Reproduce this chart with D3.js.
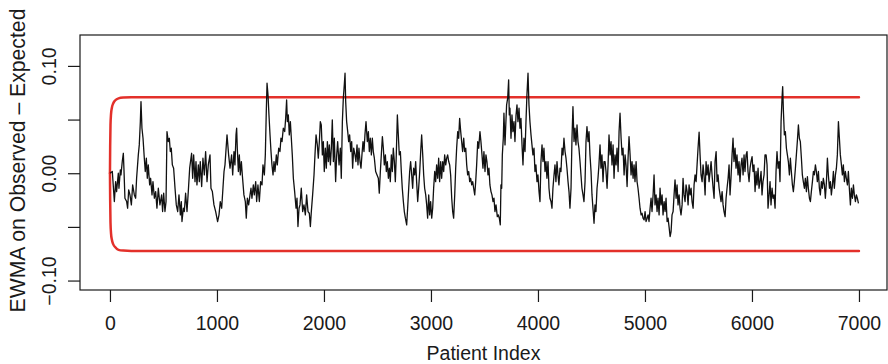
<!DOCTYPE html>
<html>
<head>
<meta charset="utf-8">
<script src="https://cdn.jsdelivr.net/npm/d3@7"></script>
<style>
  html, body { margin: 0; padding: 0; background: #ffffff; }
  svg { display: block; }
  text { font-family: "Liberation Sans", Arial, Helvetica, sans-serif; fill: #1a1a1a; }
</style>
</head>
<body>
<svg id="chart" width="888" height="364"></svg>
<script>
// Axis ticks and labels
const xTicks = [0, 1000, 2000, 3000, 4000, 5000, 6000, 7000];
const yTicks = [-0.10, -0.05, 0.00, 0.05, 0.10];
const yTickLabels = ["\u22120.10", "", "0.00", "", "0.10"];
const xTitle = "Patient Index";
const yTitle = "EWMA on Observed \u2013 Expected";

// Plot ranges (data range padded the way base graphics does)
const xLimits = [-280, 7262];
const yLimits = [-0.1088, 0.1288];

// EWMA control limits by patient index
const limitIndex = [0, 2, 5, 10, 18, 30, 50, 80, 125, 200, 7000];
const upperLimit = [0, 0.025, 0.045, 0.055, 0.061, 0.065, 0.068, 0.0698, 0.0705, 0.0708, 0.0708];
const lowerLimit = [0, -0.025, -0.046, -0.056, -0.062, -0.066, -0.069, -0.0714, -0.0721, -0.0724, -0.0724];

// EWMA of observed minus expected: [patient index, value]
const ewmaSeries = [
  [1,0],[22,0.0016],[41,-0.0264],[53,-0.0078],[62,-0.0171],[78,0],[84,-0.014],[97,0.0031],[103,-0.0016],[115,0.0109],[125,0.0186],
  [131,0.0031],[140,-0.0233],[156,-0.0264],[165,-0.0326],[175,-0.0155],[187,-0.0202],[200,-0.0295],[212,-0.0109],[228,-0.0202],[240,-0.0233],
  [249,-0.0047],[265,0.0171],[274,0.0264],[284,0.0481],[290,0.0668],[299,0.0419],[309,0.0326],[321,0.014],[330,0.0016],[340,0.014],
  [349,-0.0047],[358,0.0078],[371,-0.0109],[380,-0.0047],[393,-0.0202],[402,-0.0078],[415,-0.0233],[427,-0.0171],[439,-0.0326],[452,-0.014],
  [467,-0.0295],[483,-0.0202],[492,-0.0357],[502,-0.0186],[514,-0.0357],[524,-0.0264],[533,0.0388],[545,0.0295],[555,0.0326],[564,0.0202],
  [573,0.0233],[583,0.0078],[595,0.0047],[608,-0.014],[620,-0.0295],[633,-0.0357],[645,-0.0202],[658,-0.0388],[667,-0.0264],[673,-0.045],
  [686,-0.0326],[695,-0.0357],[707,-0.0186],[720,-0.0357],[732,-0.0171],[745,0.0047],[763,0.0186],[773,-0.0047],[782,0.0171],[795,-0.0078],
  [804,0.0109],[813,-0.0109],[826,0.0078],[835,-0.0078],[844,0.0109],[857,-0.0124],[869,0.014],[882,-0.0016],[894,0.0202],[907,-0.0078],
  [919,0.0078],[935,0.0171],[944,-0.014],[957,-0.0171],[972,-0.0295],[988,-0.0357],[1006,-0.045],[1019,-0.0388],[1031,-0.0264],[1044,-0.0326],
  [1056,-0.014],[1066,0.0016],[1075,0.0078],[1094,0.0357],[1109,0.0171],
  [1122,0.0047],[1137,0.0171],[1147,-0.0016],[1159,0.0202],[1168,0.0078],[1178,0.0357],[1184,0.0419],[1190,0.0233],[1200,0.0016],[1209,0.0171],
  [1218,-0.0016],[1228,0.0109],[1237,-0.0016],[1252,-0.0202],[1265,-0.0264],[1274,-0.0419],[1284,-0.0233],[1296,-0.0295],[1309,-0.0202],[1318,-0.014],
  [1327,-0.0233],[1340,-0.0109],[1349,-0.0202],[1362,-0.0078],[1371,-0.0264],[1383,-0.0109],[1396,-0.0264],[1408,-0.0078],[1421,-0.0109],[1430,0.0078],
  [1443,-0.0016],[1452,0.0171],[1461,0.0575],[1468,0.0839],[1477,0.073],[1486,0.0543],[1496,0.0357],[1505,0.0202],[1514,0.0078],[1524,-0.0016],
  [1533,0.0109],[1542,0.0016],[1555,0.0171],[1564,0.0078],[1577,0.0233],[1589,0.0202],[1598,0.0326],[1608,0.0295],[1620,0.0419],[1633,0.0388],
  [1642,0.0512],[1651,0.0683],[1658,0.0481],[1667,0.0543],[1676,0.0357],[1686,0.0481],[1695,0.0326],[1704,0.0171],[1714,-0.0047],[1726,-0.0171],
  [1739,-0.0326],[1748,-0.0233],[1757,-0.0497],[1767,-0.0326],[1776,-0.0295],[1788,-0.014],[1801,-0.0357],[1813,-0.0295],[1826,-0.0388],[1838,-0.0202],
  [1851,-0.0357],[1863,-0.0373],[1873,-0.0497],[1882,-0.0357],[1894,-0.0202],[1907,-0.0016],[1916,0.0171],[1926,0.0357],[1938,0.0264],[1947,0.014],
  [1957,0.0295],[1966,0.0481],[1975,0.045],[1985,0.0171],[1994,0.0295],[2003,0.0016],[2013,0.0233],[2022,0.0047],[2032,0.0295],[2041,0.0109],
  [2050,0.0264],[2060,0.0078],[2069,0.0233],[2078,0.0497],[2088,0.0109],[2097,0.0326],[2109,-0.0078],[2119,0.0171],[2128,0.0295],[2141,0.0078],
  [2153,0.0233],[2162,-0.0047],[2172,0.0481],[2181,0.0699],[2190,0.0823],[2197,0.0932],[2203,0.0668],[2212,0.0481],[2222,0.0388],[2231,0.0295],
  [2240,0.0357],[2250,0.0202],[2259,0.0295],[2268,0.0047],[2278,0.0233],
  [2290,0.0171],[2299,0.0109],[2309,0.0264],[2318,0.0078],[2327,0.0233],[2337,0.0109],[2346,0.0047],[2355,0.0171],[2365,0.0295],[2374,0.0202],
  [2383,0.0357],[2393,0.0481],[2405,0.0295],[2415,0.0388],[2424,0.0202],[2433,0.0326],[2443,0.0171],[2452,0.0326],[2461,0.0202],[2471,0.014],
  [2483,0.0016],[2496,-0.0016],[2508,-0.0047],[2517,-0.0186],[2527,0.0016],[2536,0.0171],[2546,0.0342],[2555,0.0233],[2564,0.0078],[2574,0.0171],
  [2583,0.0016],[2592,0.0109],[2602,-0.0047],[2611,0.0047],[2620,-0.0078],[2630,0.0171],[2639,0.0016],[2648,0.0233],[2658,0.0109],[2667,-0.0078],
  [2676,0.0171],[2686,0.0543],[2695,0.0357],[2704,0.0171],[2714,0.0202],[2723,0.0016],[2732,-0.014],[2742,-0.0264],[2751,-0.0357],[2761,-0.0419],
  [2773,-0.0481],[2782,-0.0326],[2792,-0.014],[2801,0.0016],[2810,0.0109],[2820,-0.0016],[2829,-0.014],[2838,0.0047],[2848,-0.0016],[2857,0.0109],
  [2866,-0.0078],[2876,-0.0264],[2885,-0.014],[2895,0.0016],[2904,0.0202],[2913,0.0357],[2923,0.0171],[2932,-0.0016],[2941,-0.014],[2951,-0.0202],
  [2960,-0.0295],[2969,-0.0419],[2979,-0.0202],[2988,-0.0388],[2997,-0.0264],[3007,-0.0419],[3016,-0.0326],[3025,-0.014],[3035,0.0016],[3044,-0.0078],
  [3053,0.0078],[3063,-0.0047],[3072,0.014],[3081,-0.0078],[3091,0.0109],[3100,-0.0047],[3110,0.0109],[3119,0.0016],[3128,0.0171],[3138,0.0078],
  [3147,0.014],[3156,0.0171],[3166,0.0109],[3175,0.0078],[3184,-0.0016],[3194,-0.0233],[3203,-0.0357],[3212,-0.0419],[3222,-0.0202],[3231,0.0047],
  [3240,0.0233],[3250,0.0388],[3259,0.0326],[3268,0.0512],[3278,0.0388],[3287,0.0295],[3296,0.0202],[3306,0.0326],[3315,0.0202],[3325,0.0233],
  [3334,0.0078],[3343,-0.0016],[3353,0.0016],[3362,-0.0078],[3371,-0.0047],[3381,-0.0109],[3390,-0.0078],[3399,-0.014],[3409,-0.0202],[3418,-0.0078],
  [3427,0.0078],[3437,0.0295],[3446,0.0233],
  [3458,0.0388],[3467,0.0295],[3477,0.0171],[3486,0.0047],[3495,0.0202],[3505,0.0016],[3514,0.0171],[3523,0.0109],[3533,-0.0016],[3542,0.0047],
  [3551,-0.0109],[3561,-0.0171],[3570,-0.0202],[3580,-0.0264],[3589,-0.0233],[3598,-0.0357],[3608,-0.0295],[3620,-0.0404],[3629,-0.0388],[3639,-0.0419],
  [3648,-0.0481],[3654,-0.0109],[3661,-0.014],[3667,0.0171],[3676,0.0326],[3682,0.0559],[3692,0.0264],[3698,0.0419],[3707,0.0637],[3717,0.0699],
  [3726,0.087],[3732,0.0543],[3738,0.0606],[3748,0.0326],[3757,0.0543],[3766,0.0388],[3776,0.0481],[3785,0.0295],[3795,0.0543],[3804,0.0637],
  [3813,0.0481],[3823,0.0606],[3832,0.0419],[3841,0.0512],[3851,0.0264],[3860,0.0078],[3869,0.0326],[3879,0.0202],[3888,0.0481],[3897,0.073],
  [3907,0.0932],[3916,0.0637],[3925,0.0481],[3935,0.0357],[3944,0.0264],[3953,0.0171],[3963,0.0233],[3972,0.0016],[3981,0.0078],[3991,-0.0078],
  [4000,-0.0016],[4010,-0.0171],[4019,-0.0264],[4028,0.0109],[4038,0.0264],[4047,0.0109],[4056,0.0233],[4066,0.0016],[4075,0.0109],[4084,-0.0047],
  [4094,0.0109],[4103,-0.014],[4112,-0.0233],[4122,-0.0264],[4131,-0.0326],[4140,-0.014],[4150,-0.0016],[4159,0.0078],[4168,-0.0078],[4178,0.0109],
  [4187,-0.0016],[4196,-0.0109],[4206,0.0047],[4215,0.0016],[4225,0.0233],[4234,0.0171],[4243,0.0326],[4253,0.0202],[4262,0.014],[4271,0.0047],
  [4281,-0.0078],[4290,-0.0171],[4299,-0.0326],[4309,-0.014],[4318,0.0326],[4327,0.0621],[4337,0.0295],[4346,0.0419],[4355,0.0264],[4365,0.045],
  [4374,0.0295],[4383,0.0233],[4393,0.0109],[4402,-0.0016],[4411,-0.014],[4421,-0.0202],[4430,-0.0264],[4440,-0.0078],[4449,0.0295],[4458,0.0435],
  [4468,0.0295],[4477,0.0388],[4486,0.0171],[4496,0.0016],[4505,-0.0202],[4514,-0.0326],[4524,-0.0466],[4533,-0.0295],[4542,-0.0357],[4552,-0.014],
  [4561,-0.0047],[4570,0.0078],[4580,0.0264],[4589,0.0047],[4598,0.0171],[4608,-0.0078],[4617,0.0109],
  [4627,0.0109],[4636,0.0016],[4646,-0.014],[4655,0.0078],[4664,0.0357],[4674,0.0171],[4683,0.0295],[4692,0.0078],[4702,0.0264],[4711,-0.0047],
  [4720,0.0171],[4730,0.0078],[4739,0.0233],[4749,0.0016],[4758,0.0388],[4767,0.0559],[4777,0.0326],[4786,0.0171],[4795,0.0233],[4805,-0.0016],
  [4814,0.0171],[4823,0.0078],[4833,-0.0124],[4842,0.014],[4851,0.0342],[4861,0.0171],[4870,-0.0016],[4879,0.0109],[4889,-0.0047],[4898,0.0078],
  [4907,-0.0078],[4917,0.0109],[4926,-0.0078],[4935,-0.014],[4945,-0.0233],[4954,-0.0326],[4964,-0.0388],[4973,-0.0373],[4982,-0.0419],[4992,-0.0435],
  [5001,-0.0357],[5010,-0.045],[5020,-0.0419],[5029,-0.0388],[5038,-0.045],[5048,-0.0326],[5057,-0.0233],[5066,-0.0357],[5076,-0.0202],[5085,-0.0016],
  [5094,-0.0295],[5104,-0.0202],[5113,-0.0357],[5122,-0.0233],[5132,-0.0388],[5141,-0.014],[5150,-0.0295],[5160,-0.0202],[5169,-0.0388],[5179,-0.0264],
  [5188,-0.0357],[5197,-0.0233],[5207,-0.045],[5216,-0.0419],[5225,-0.0497],[5235,-0.059],[5244,-0.0543],[5253,-0.0388],[5263,-0.0357],[5272,-0.0202],
  [5281,-0.0062],[5291,-0.0233],[5300,-0.0109],[5309,-0.0295],[5319,-0.0202],[5328,-0.0326],[5337,-0.0388],[5347,-0.0295],[5356,-0.0047],[5365,-0.0202],
  [5375,-0.0264],[5384,-0.0109],[5394,-0.0171],[5403,-0.0295],[5412,-0.0109],[5422,-0.0202],[5431,-0.014],[5440,-0.0264],[5450,-0.0326],[5459,-0.0109],
  [5468,-0.0016],[5478,-0.0078],[5487,0.0078],[5496,0.0233],[5506,0.0382],[5515,0.0171],[5524,-0.0016],[5534,-0.0078],[5543,0.0078],[5552,-0.0016],
  [5562,-0.0202],[5571,0.0109],[5580,-0.0016],[5590,0.0078],[5599,-0.0078],[5609,0.0016],[5618,0.0109],[5627,-0.0016],[5637,-0.014],[5646,-0.0233],
  [5655,0.0109],[5665,0.0202],[5674,-0.0078],[5683,-0.0016],[5693,-0.014],[5702,-0.0202],[5711,-0.0264],[5721,-0.0171],[5730,-0.0295],[5739,-0.0357],
  [5749,-0.0404],[5758,-0.0233],[5767,-0.014],[5777,-0.0047],[5786,0.0078],
  [5795,-0.0202],[5804,-0.0047],[5814,0.0171],[5823,0.0326],[5832,0.0109],[5842,0.0233],[5851,0.0047],[5860,0.0171],[5870,-0.0016],[5879,0.0109],
  [5888,-0.0078],[5898,0.0078],[5907,0.014],[5917,-0.0016],[5926,0.0171],[5935,0.0016],[5945,0.0171],[5954,0.0202],[5963,0.0016],[5973,-0.0078],
  [5982,0.0047],[5991,0.0109],[6001,0.0155],[6010,0.0016],[6019,0.0078],[6029,-0.0171],[6038,0.0016],[6047,-0.0109],[6057,0.0047],[6066,-0.014],
  [6075,-0.0078],[6085,0.0016],[6094,-0.0202],[6103,-0.0078],[6113,-0.0016],[6122,0.0171],[6132,0.0171],[6141,0.0078],[6150,-0.0326],[6160,-0.0202],
  [6169,-0.0078],[6178,-0.0295],[6188,-0.014],[6197,-0.0233],[6206,-0.0202],[6216,-0.0326],[6225,0.0016],[6234,0.0202],[6244,0.0047],[6253,0.0109],
  [6262,-0.0078],[6272,0.0481],[6281,0.0699],[6287,0.0807],[6294,0.0575],[6303,0.0357],[6312,0.0388],[6322,0.0233],[6331,0.0171],[6340,0.0109],
  [6350,-0.0016],[6359,0.014],[6368,0.0016],[6378,-0.0109],[6387,-0.0171],[6396,-0.0078],[6406,0.0047],[6415,0.0171],[6424,0.0295],[6434,0.045],
  [6443,0.0326],[6452,0.0295],[6462,0.014],[6471,-0.0016],[6480,-0.0078],[6490,-0.014],[6499,-0.0047],[6509,-0.0171],[6518,-0.0031],[6527,-0.014],
  [6537,-0.0233],[6546,-0.0264],[6555,-0.0171],[6565,-0.0078],[6574,0.0016],[6583,-0.0016],[6593,0.0078],[6602,0.0016],[6611,-0.0078],[6621,0.0016],
  [6630,-0.014],[6639,-0.0202],[6649,-0.0078],[6658,-0.014],[6667,-0.0047],[6677,-0.0109],[6686,-0.0233],[6696,-0.0078],[6705,0.014],[6714,-0.0016],
  [6724,-0.014],[6733,-0.0078],[6742,-0.0202],[6752,-0.0109],[6761,0.0016],[6770,-0.014],[6780,-0.0016],[6789,0.0047],[6798,0.0171],[6808,0.0481],
  [6817,0.0326],[6826,0.0171],[6836,0.0078],[6845,-0.0016],[6854,0.0078],[6864,-0.0078],[6873,0.0016],[6882,-0.0047],[6892,-0.0109],[6901,0.0016],
  [6910,-0.014],[6920,-0.0295],[6929,-0.014],[6939,-0.0233],[6948,-0.0109],[6957,-0.0202],[6967,-0.0264],[6976,-0.0202],[6985,-0.0233],[6995,-0.028]
];

// Layout
const width = 888, height = 364;
const margin = { top: 35, right: 1, bottom: 74, left: 80 };
const fontSize = 19.5;
const yTitleSize = 21.2;

const svg = d3.select("#chart");

const x = d3.scaleLinear().domain(xLimits).range([margin.left, width - margin.right]);
const y = d3.scaleLinear().domain(yLimits).range([height - margin.bottom, margin.top]);

// Control limits (red), drawn under the EWMA trace
const limitLine = d3.line()
  .x((d, i) => x(limitIndex[i]))
  .y(d => y(d))
  .curve(d3.curveMonotoneX);

const limitsGroup = svg.append("g")
  .attr("fill", "none")
  .attr("stroke", "#e3302a")
  .attr("stroke-width", 2.5)
  .attr("stroke-linejoin", "round")
  .attr("stroke-linecap", "round");
limitsGroup.append("path").attr("d", limitLine(upperLimit));
limitsGroup.append("path").attr("d", limitLine(lowerLimit));

// EWMA trace
const ewmaLine = d3.line()
  .x(d => x(d[0]))
  .y(d => y(d[1]));

svg.append("path")
  .attr("d", ewmaLine(ewmaSeries))
  .attr("fill", "none")
  .attr("stroke", "#111111")
  .attr("stroke-width", 1.3)
  .attr("stroke-linejoin", "round");

// Plot frame
svg.append("rect")
  .attr("x", x.range()[0])
  .attr("y", y.range()[1])
  .attr("width", x.range()[1] - x.range()[0])
  .attr("height", y.range()[0] - y.range()[1])
  .attr("fill", "none")
  .attr("stroke", "#1a1a1a")
  .attr("stroke-width", 1.2);

// X axis
const gx = svg.append("g")
  .attr("transform", `translate(0,${y.range()[0]})`)
  .call(d3.axisBottom(x).tickValues(xTicks).tickSize(12).tickFormat(d3.format("d")));
gx.select(".domain").remove();
gx.attr("font-family", null).attr("font-size", null);
gx.selectAll(".tick line").attr("stroke", "#1a1a1a").attr("stroke-width", 1.2);
gx.selectAll(".tick text")
  .attr("y", 40)
  .attr("dy", 0)
  .style("font-size", fontSize + "px");

// Y axis
const gy = svg.append("g")
  .attr("transform", `translate(${x.range()[0]},0)`)
  .call(d3.axisLeft(y).tickValues(yTicks).tickSize(12).tickFormat((d, i) => yTickLabels[i]));
gy.select(".domain").remove();
gy.attr("font-family", null).attr("font-size", null);
gy.selectAll(".tick line").attr("stroke", "#1a1a1a").attr("stroke-width", 1.2);
gy.selectAll(".tick text")
  .attr("transform", "rotate(-90)")
  .attr("x", 0)
  .attr("y", -24)
  .attr("dy", 0)
  .attr("text-anchor", "middle")
  .style("font-size", fontSize + "px");

// Axis titles
svg.append("text")
  .attr("x", (x.range()[0] + x.range()[1]) / 2)
  .attr("y", 359.5)
  .attr("text-anchor", "middle")
  .style("font-size", fontSize + "px")
  .text(xTitle);

svg.append("text")
  .attr("transform", `translate(25,160.5) rotate(-90)`)
  .attr("text-anchor", "middle")
  .style("font-size", yTitleSize + "px")
  .text(yTitle);
</script>
</body>
</html>
